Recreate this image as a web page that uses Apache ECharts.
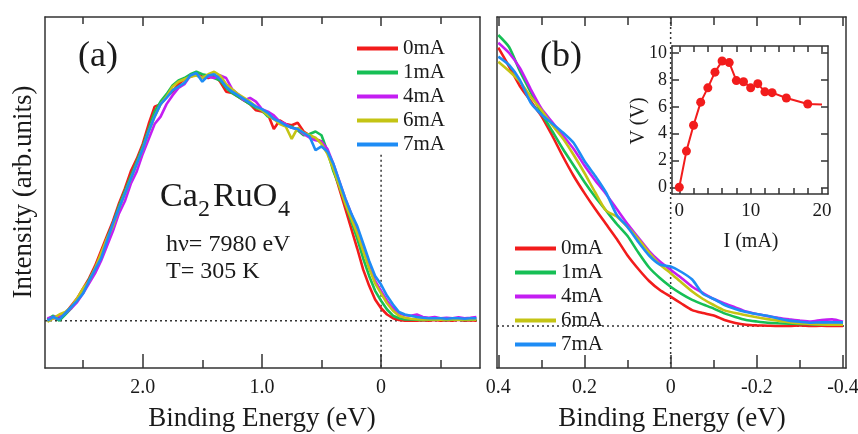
<!DOCTYPE html>
<html>
<head>
<meta charset="utf-8">
<script src="https://cdn.jsdelivr.net/npm/echarts@6.0.0/dist/echarts.min.js"></script>
<style>
  html, body { margin: 0; padding: 0; background: #fff; }
  #main { width: 858px; height: 434px; }
</style>
</head>
<body>
<div id="main"></div>
<script>
// ---- data ----
const seriesNames = ['0mA', '1mA', '4mA', '6mA', '7mA']
const seriesColors = ['#f21c1c', '#16bf55', '#c41ef2', '#c4c414', '#1e8cf5']

// panel (a): binding energy (eV) and intensity, baseline = 0
const energyA = [2.80, 2.75, 2.70, 2.65, 2.60, 2.55, 2.50, 2.45, 2.40, 2.35,
  2.30, 2.25, 2.20, 2.15, 2.10, 2.05, 2.00, 1.95, 1.90, 1.85,
  1.80, 1.75, 1.70, 1.65, 1.60, 1.55, 1.50, 1.45, 1.40, 1.35,
  1.30, 1.25, 1.20, 1.15, 1.10, 1.05, 1.00, 0.95, 0.90, 0.85,
  0.80, 0.75, 0.70, 0.65, 0.60, 0.55, 0.50, 0.45, 0.40, 0.35,
  0.30, 0.25, 0.20, 0.15, 0.10, 0.05, 0.00, -0.05, -0.10, -0.15,
  -0.20, -0.25, -0.30, -0.35, -0.40, -0.45, -0.50, -0.55, -0.60, -0.65,
  -0.70, -0.75, -0.80]
const intensA_0mA = [0.00, 0.01, 0.01, 0.03, 0.06, 0.09, 0.13, 0.17, 0.22, 0.28,
  0.34, 0.40, 0.47, 0.53, 0.60, 0.65, 0.71, 0.79, 0.86, 0.87,
  0.90, 0.92, 0.95, 0.97, 0.98, 0.99, 0.98, 0.975, 0.985, 0.96,
  0.92, 0.915, 0.90, 0.885, 0.87, 0.845, 0.84, 0.83, 0.77, 0.805,
  0.79, 0.785, 0.795, 0.76, 0.745, 0.73, 0.72, 0.68, 0.61, 0.53,
  0.45, 0.37, 0.29, 0.205, 0.14, 0.085, 0.05, 0.025, 0.01, 0.003,
  0.0, 0.0, 0.0, 0.002, 0.0, 0.003, 0.0, 0.002, 0.0, 0.004,
  0.0, 0.002, 0.0]
const intensA_1mA = [0.005, 0.02, 0.0, 0.025, 0.05, 0.085, 0.12, 0.165, 0.21, 0.26,
  0.33, 0.39, 0.46, 0.52, 0.58, 0.64, 0.70, 0.77, 0.84, 0.88,
  0.91, 0.945, 0.965, 0.975, 0.99, 1.0, 0.99, 0.985, 0.975, 0.965,
  0.935, 0.915, 0.90, 0.885, 0.87, 0.855, 0.845, 0.82, 0.815, 0.795,
  0.785, 0.78, 0.765, 0.745, 0.75, 0.76, 0.745, 0.68, 0.60, 0.54,
  0.47, 0.40, 0.33, 0.25, 0.18, 0.12, 0.08, 0.045, 0.02, 0.01,
  0.005, 0.005, 0.004, 0.003, 0.004, 0.005, 0.004, 0.003, 0.005, 0.004,
  0.003, 0.004, 0.005]
const intensA_4mA = [0.01, 0.015, 0.02, 0.03, 0.05, 0.075, 0.11, 0.15, 0.19, 0.24,
  0.30, 0.36, 0.43, 0.48, 0.55, 0.60, 0.67, 0.73, 0.79, 0.82,
  0.87, 0.905, 0.935, 0.95, 0.985, 0.99, 0.975, 0.98, 0.975, 0.985,
  0.975, 0.93, 0.91, 0.885, 0.895, 0.88, 0.85, 0.84, 0.825, 0.80,
  0.79, 0.775, 0.77, 0.75, 0.735, 0.725, 0.72, 0.69, 0.63, 0.56,
  0.49, 0.43, 0.36, 0.29, 0.22, 0.16, 0.12, 0.08, 0.05, 0.03,
  0.022, 0.02, 0.025, 0.015, 0.012, 0.015, 0.01, 0.012, 0.01, 0.014,
  0.01, 0.012, 0.015]
const intensA_6mA = [-0.005, 0.01, 0.025, 0.035, 0.055, 0.09, 0.13, 0.16, 0.21, 0.27,
  0.33, 0.38, 0.45, 0.51, 0.57, 0.63, 0.69, 0.76, 0.82, 0.87,
  0.90, 0.94, 0.96, 0.97, 0.98, 0.985, 0.975, 0.99, 1.0, 0.985,
  0.95, 0.93, 0.91, 0.895, 0.88, 0.86, 0.845, 0.825, 0.81, 0.79,
  0.78, 0.73, 0.775, 0.755, 0.745, 0.735, 0.71, 0.67, 0.61, 0.54,
  0.47, 0.41, 0.35, 0.28, 0.21, 0.15, 0.11, 0.07, 0.04, 0.02,
  0.012, 0.008, 0.006, 0.005, 0.006, 0.005, 0.004, 0.006, 0.005, 0.004,
  0.005, 0.006, 0.004]
const intensA_7mA = [0.00, 0.015, 0.005, 0.03, 0.055, 0.08, 0.11, 0.16, 0.205, 0.25,
  0.32, 0.39, 0.45, 0.51, 0.57, 0.63, 0.69, 0.76, 0.82, 0.87,
  0.895, 0.925, 0.94, 0.955, 0.985, 0.995, 0.96, 0.985, 0.99, 0.97,
  0.94, 0.92, 0.905, 0.89, 0.875, 0.86, 0.85, 0.835, 0.81, 0.80,
  0.785, 0.775, 0.77, 0.755, 0.74, 0.685, 0.70, 0.68, 0.63, 0.56,
  0.49, 0.43, 0.38, 0.31, 0.24, 0.18, 0.145, 0.10, 0.065, 0.035,
  0.025, 0.02, 0.015, 0.012, 0.01, 0.01, 0.01, 0.008, 0.01, 0.01,
  0.008, 0.01, 0.01]

// panel (b): zoom around the Fermi level
const energyB = [0.4, 0.375, 0.35, 0.325, 0.3, 0.275, 0.25, 0.225, 0.2, 0.175,
  0.15, 0.125, 0.1, 0.075, 0.05, 0.025, 0, -0.025, -0.05, -0.075,
  -0.1, -0.125, -0.15, -0.175, -0.2, -0.225, -0.25, -0.275, -0.3, -0.325,
  -0.35, -0.375, -0.4]
const intensB_0mA = [0.928, 0.865, 0.80, 0.75, 0.70, 0.635, 0.565, 0.50, 0.443, 0.39,
  0.34, 0.29, 0.235, 0.19, 0.15, 0.12, 0.098, 0.075, 0.053, 0.043,
  0.035, 0.02, 0.01, 0.004, 0.002, 0.001, 0.0, 0.0, 0.002, 0.0,
  0.001, 0.0, 0.0]
const intensB_1mA = [0.97, 0.93, 0.85, 0.78, 0.71, 0.65, 0.59, 0.535, 0.48, 0.43,
  0.385, 0.34, 0.30, 0.245, 0.195, 0.16, 0.131, 0.107, 0.087, 0.072,
  0.058, 0.042, 0.03, 0.02, 0.015, 0.011, 0.009, 0.008, 0.007, 0.006,
  0.005, 0.004, 0.005]
const intensB_4mA = [0.944, 0.91, 0.86, 0.79, 0.725, 0.68, 0.635, 0.59, 0.535, 0.485,
  0.44, 0.39, 0.34, 0.295, 0.25, 0.215, 0.187, 0.16, 0.131, 0.11,
  0.09, 0.075, 0.062, 0.048, 0.04, 0.033, 0.027, 0.022, 0.018, 0.015,
  0.02, 0.022, 0.014]
const intensB_6mA = [0.881, 0.85, 0.815, 0.765, 0.72, 0.67, 0.625, 0.57, 0.51, 0.445,
  0.385, 0.365, 0.33, 0.29, 0.245, 0.205, 0.176, 0.145, 0.115, 0.09,
  0.07, 0.052, 0.043, 0.036, 0.029, 0.023, 0.018, 0.013, 0.009, 0.007,
  0.005, 0.004, 0.004]
const intensB_7mA = [0.898, 0.87, 0.82, 0.745, 0.705, 0.675, 0.645, 0.61, 0.55, 0.50,
  0.445, 0.37, 0.33, 0.28, 0.235, 0.205, 0.198, 0.18, 0.155, 0.107,
  0.09, 0.07, 0.057, 0.047, 0.04, 0.034, 0.025, 0.018, 0.014, 0.011,
  0.012, 0.012, 0.012]

// inset: V-I curve
const currentI = [0, 1, 2, 3, 4, 5, 6, 7, 8, 9, 10, 11, 12, 13, 15, 18, 20]
const voltageV = [0, 2.7, 4.63, 6.35, 7.42, 8.59, 9.42, 9.3, 7.96, 7.87, 7.42, 7.73, 7.12, 7.06, 6.66, 6.21, 6.17]

// tick positions / labels
const ticksA_major = [2, 1, 0]
const ticksA_minor = [2.5, 1.5, 0.5, -0.5]
const ticksB_major = [0.4, 0.2, 0, -0.2, -0.4]
const ticksB_minor = [0.3, 0.1, -0.1, -0.3]
const ticksInsetX = [0, 2, 4, 6, 8, 10, 12, 14, 16, 18, 20]
const labelsInsetX = [0, 10, 20]
const ticksInsetY = [0, 2, 4, 6, 8, 10]

const curvesA = [intensA_0mA, intensA_1mA, intensA_4mA, intensA_6mA, intensA_7mA]
const curvesB = [intensB_0mA, intensB_1mA, intensB_4mA, intensB_6mA, intensB_7mA]

// ---- chart ----
const chart = echarts.init(document.getElementById('main'))
const FONT = 'Liberation Serif'
const INK = '#1a1a1a'
const FRAME = { show: true, onZero: false, lineStyle: { color: '#333', width: 1.5 } }

function pairs(xs, ys) {
  return xs.map((x, i) => [x, ys[i]])
}
function fmt(v) {
  return v === 0 ? '0' : v.toFixed(1)
}
// one x axis: line/labels optional, ticks from a list
function xAx(grid, pos, min, max, ticks, len, labels, line, fontSize, margin) {
  return {
    type: 'value', gridIndex: grid, position: pos, min: min, max: max,
    inverse: grid < 2,
    axisLine: line ? FRAME : { show: false, onZero: false },
    axisTick: { show: true, inside: true, length: len, customValues: ticks,
      lineStyle: { color: '#333', width: 1.5 } },
    axisLabel: labels ? { show: true, customValues: labels, formatter: grid < 2 ? fmt : null,
      fontFamily: FONT, fontSize: fontSize, color: INK, margin: margin } : { show: false },
    splitLine: { show: false }
  }
}
function yAx(grid, pos, min, max, ticks, labels) {
  return {
    type: 'value', gridIndex: grid, position: pos, min: min, max: max,
    axisLine: FRAME,
    axisTick: ticks ? { show: true, inside: true, length: 7, customValues: ticks,
      lineStyle: { color: '#333', width: 1.5 } } : { show: false },
    axisLabel: labels ? { show: true, customValues: labels, fontFamily: FONT, fontSize: 18,
      color: INK, margin: 5 } : { show: false },
    splitLine: { show: false }
  }
}
function txt(x, y, text, size, align, rot) {
  return {
    type: 'text', x: x, y: y, rotation: rot || 0, silent: true,
    style: { text: text, font: size + 'px "' + FONT + '"', fill: INK,
      textAlign: align || 'left', textVerticalAlign: 'middle' }
  }
}
function dotted(xi, yi, data) {
  return {
    type: 'line', xAxisIndex: xi, yAxisIndex: yi, data: data, symbol: 'none', silent: true,
    lineStyle: { color: '#333', width: 1.5, type: [2, 3] }, z: 1
  }
}

const xA = [-0.83, 2.82]
const yA = [-0.19, 1.22]
const xB = [-0.407, 0.403]
const yB = [-0.14, 1.03]

const series = []
seriesNames.forEach((n, i) => {
  series.push({
    type: 'line', name: n, xAxisIndex: 0, yAxisIndex: 0,
    data: pairs(energyA, curvesA[i]), showSymbol: false, z: 3 + i,
    lineStyle: { color: seriesColors[i], width: 2.6 }, itemStyle: { color: seriesColors[i] }
  })
})
seriesNames.forEach((n, i) => {
  series.push({
    type: 'line', name: n, xAxisIndex: 4, yAxisIndex: 2, smooth: 0.2,
    data: pairs(energyB, curvesB[i]), showSymbol: false, z: 3 + i,
    lineStyle: { color: seriesColors[i], width: 2.6 }, itemStyle: { color: seriesColors[i] }
  })
})
// reference lines: baseline and Fermi level
series.push(dotted(0, 0, [[xA[1], 0], [xA[0], 0]]))
series.push(dotted(0, 0, [[0, 0.667], [0, yA[0]]]))
series.push(dotted(4, 2, [[xB[1], 0], [xB[0], 0]]))
series.push(dotted(4, 2, [[0, yB[1]], [0, yB[0]]]))
// inset V-I
series.push({
  type: 'line', xAxisIndex: 8, yAxisIndex: 4, z: 10,
  data: currentI.map((c, i) => (i === currentI.length - 1
    ? { value: [c, voltageV[i]], symbol: 'none' } : [c, voltageV[i]])),
  symbol: 'circle', symbolSize: 9,
  lineStyle: { color: '#f21c1c', width: 2 }, itemStyle: { color: '#f21c1c' }
})

const legendBase = {
  orient: 'vertical', icon: 'rect', itemWidth: 41, itemHeight: 4, itemGap: 3, padding: 0,
  data: seriesNames, selectedMode: false,
  textStyle: { fontFamily: FONT, fontSize: 21, color: INK, lineHeight: 20 }
}

const option = {
  backgroundColor: '#fff',
  animation: false,
  grid: [
    { left: 45, top: 17, width: 435, height: 351, outerBoundsMode: 'none' },
    { left: 497, top: 17, width: 349, height: 351, outerBoundsMode: 'none' },
    { left: 672, top: 46, width: 156, height: 148, outerBoundsMode: 'none' }
  ],
  xAxis: [
    xAx(0, 'bottom', xA[0], xA[1], ticksA_major, 14, ticksA_major, true, 20, 10),
    xAx(0, 'bottom', xA[0], xA[1], ticksA_minor, 8),
    xAx(0, 'top', xA[0], xA[1], ticksA_major, 9, null, true),
    xAx(0, 'top', xA[0], xA[1], ticksA_minor, 7),
    xAx(1, 'bottom', xB[0], xB[1], ticksB_major, 13, ticksB_major, true, 20, 10),
    xAx(1, 'bottom', xB[0], xB[1], ticksB_minor, 8),
    xAx(1, 'top', xB[0], xB[1], ticksB_major, 9, null, true),
    xAx(1, 'top', xB[0], xB[1], ticksB_minor, 8),
    xAx(2, 'bottom', -1.02, 20.84, ticksInsetX, 6, labelsInsetX, true, 19, 8),
    xAx(2, 'top', -1.02, 20.84, ticksInsetX, 6, null, true)
  ],
  yAxis: [
    yAx(0, 'left', yA[0], yA[1]),
    yAx(0, 'right', yA[0], yA[1]),
    yAx(1, 'left', yB[0], yB[1]),
    yAx(1, 'right', yB[0], yB[1]),
    yAx(2, 'left', -0.5, 10.54, ticksInsetY, ticksInsetY),
    yAx(2, 'right', -0.5, 10.54, ticksInsetY)
  ],
  legend: [
    Object.assign({ left: 357, top: 38 }, legendBase),
    Object.assign({ left: 515, top: 238 }, legendBase)
  ],
  graphic: [
    txt(78, 57, '(a)', 36),
    txt(540, 57, '(b)', 36),
    txt(160, 197, 'Ca', 34),
    txt(198, 210, '2', 24),
    txt(213, 197, 'RuO', 34),
    txt(278, 210, '4', 24),
    txt(166, 245, 'h\u03bd= 7980 eV', 24),
    txt(166, 272, 'T= 305 K', 24),
    txt(24, 192, 'Intensity (arb.units)', 27, 'center', Math.PI / 2),
    txt(262, 419, 'Binding Energy (eV)', 27, 'center'),
    txt(672, 419, 'Binding Energy (eV)', 27, 'center'),
    txt(639, 121, 'V (V)', 20, 'center', Math.PI / 2),
    txt(751, 242, 'I (mA)', 20, 'center')
  ],
  series: series
}
chart.setOption(option)
</script>
</body>
</html>
